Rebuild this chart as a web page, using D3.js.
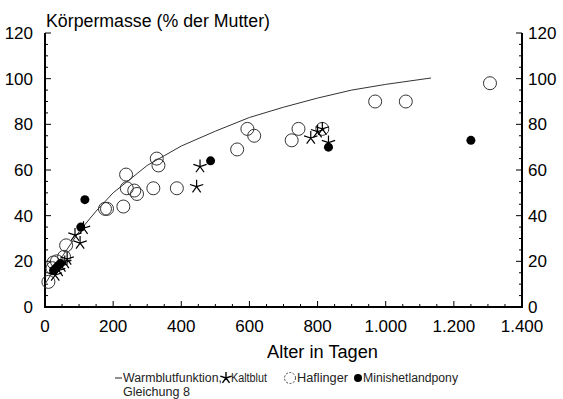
<!DOCTYPE html>
<html><head><meta charset="utf-8">
<script src="https://cdn.jsdelivr.net/npm/d3@7"></script>
<style>body{margin:0;background:#fff}svg{display:block}text{font-family:"Liberation Sans",Arial,sans-serif}</style>
</head><body>
<script>
const xTicks = [0,200,400,600,800,1000,1200,1400];
const xTickLabels = ["0","200","400","600","800","1.000","1.200","1.400"];
const yTicks = [0,20,40,60,80,100,120];
const warmblut = [[0,10],[50,22],[100,33],[150,42],[200,50],[300,62],[400,70.5],[500,77],[600,83],[700,87.5],[800,91.5],[900,95],[1000,97.5],[1133,100.3]];
const haflinger = [[10,11],[22,17],[25,19.5],[35,20],[56,22],[62,27],[176,43],[182,43],[230,44],[238,58],[240,52],[262,51],[270,49.5],[318,52],[328,65],[333,62],[387,52],[564,69],[594,78],[614,75],[724,73],[744,78],[814,78],[969,90],[1059,90],[1306,98]];
const kaltblut = [[30,14],[40,16],[48,18],[58,19.5],[65,21],[88,31.5],[103,28],[113,34.5],[445,52.7],[455,61.5],[780,74],[800,76.8],[814,78],[832,72]];
const minishetland = [[25,16],[32,17],[38,18],[45,19],[105,35],[117,47],[486,64],[832,70],[1250,73]];

const W=563,H=399;
const svg=d3.select("body").append("svg").attr("width",W).attr("height",H);
const x=d3.scaleLinear().domain([0,1400]).range([45,522]);
const y=d3.scaleLinear().domain([0,120]).range([307,33]);

// axes
const g=svg.append("g").attr("stroke","#000").attr("fill","none");
g.append("path").attr("d",`M${x(0)},${y(120)}V${y(0)}H${x(1400)}V${y(120)}`).attr("stroke-width",2);
for(let v=0;v<=120;v+=5){
  const len = v%20===0?6:3;
  g.append("line").attr("x1",x(0)).attr("x2",x(0)+len).attr("y1",y(v)).attr("y2",y(v));
  g.append("line").attr("x1",x(1400)).attr("x2",x(1400)-len).attr("y1",y(v)).attr("y2",y(v));
}
for(let v=0;v<=1400;v+=50){
  const len = v%200===0?6:3;
  g.append("line").attr("x1",x(v)).attr("x2",x(v)).attr("y1",y(0)).attr("y2",y(0)-len);
}
// labels
const lbl=svg.append("g").attr("font-size",17).attr("fill","#000");
yTicks.forEach(v=>{
  lbl.append("text").attr("x",33).attr("y",y(v)+6).attr("text-anchor","end").text(v);
  lbl.append("text").attr("x",528).attr("y",y(v)+6).attr("text-anchor","start").text(v);
});
xTicks.forEach((v,i)=>{
  lbl.append("text").attr("x",x(v)).attr("y",332).attr("text-anchor","middle").text(xTickLabels[i]);
});
lbl.append("text").attr("x",46).attr("y",27).attr("font-size",17.5).attr("textLength",224).attr("lengthAdjust","spacingAndGlyphs").text("Körpermasse (% der Mutter)");
lbl.append("text").attr("x",267).attr("y",358).attr("font-size",18).attr("textLength",111).attr("lengthAdjust","spacingAndGlyphs").text("Alter in Tagen");

// curve
svg.append("path").datum(warmblut).attr("fill","none").attr("stroke","#333").attr("stroke-width",1)
  .attr("d",d3.line().x(d=>x(d[0])).y(d=>y(d[1])));

function starPath(r){
  let p="";
  for(let i=0;i<5;i++){const a=(-90+72*i)*Math.PI/180;p+=`M0,0L${(r*Math.cos(a)).toFixed(2)},${(r*Math.sin(a)).toFixed(2)}`;}
  return p;
}
svg.append("g").selectAll("circle").data(haflinger).join("circle")
  .attr("cx",d=>x(d[0])).attr("cy",d=>y(d[1])).attr("r",6.5)
  .attr("fill","none").attr("stroke","#333").attr("stroke-width",1);
svg.append("g").selectAll("path").data(kaltblut).join("path")
  .attr("transform",d=>`translate(${x(d[0])},${y(d[1])})`).attr("d",starPath(7))
  .attr("fill","none").attr("stroke","#000").attr("stroke-width",1.2);
svg.append("g").selectAll("circle").data(minishetland).join("circle")
  .attr("cx",d=>x(d[0])).attr("cy",d=>y(d[1])).attr("r",4.5).attr("fill","#000");

// legend
const lg=svg.append("g").attr("font-size",12).attr("fill","#222");
lg.append("line").attr("x1",115).attr("x2",122).attr("y1",378).attr("y2",378).attr("stroke","#222");
lg.append("text").attr("x",123).attr("y",382).attr("textLength",99).attr("lengthAdjust","spacingAndGlyphs").text("Warmblutfunktion,");
lg.append("path").attr("transform","translate(226,378)").attr("d",starPath(6)).attr("stroke","#000").attr("stroke-width",1.4).attr("fill","none");
lg.append("text").attr("x",231).attr("y",382).attr("textLength",36).attr("lengthAdjust","spacingAndGlyphs").text("Kaltblut");
lg.append("circle").attr("cx",290).attr("cy",378).attr("r",5.5).attr("fill","none").attr("stroke","#444").attr("stroke-dasharray","2,1.5");
lg.append("text").attr("x",297).attr("y",382).attr("textLength",51).attr("lengthAdjust","spacingAndGlyphs").text("Haflinger");
lg.append("circle").attr("cx",358).attr("cy",378).attr("r",4).attr("fill","#000");
lg.append("text").attr("x",363).attr("y",382).attr("textLength",95).attr("lengthAdjust","spacingAndGlyphs").text("Minishetlandpony");
lg.append("text").attr("x",123).attr("y",396).attr("textLength",67).attr("lengthAdjust","spacingAndGlyphs").text("Gleichung 8");
</script>
</body></html>
